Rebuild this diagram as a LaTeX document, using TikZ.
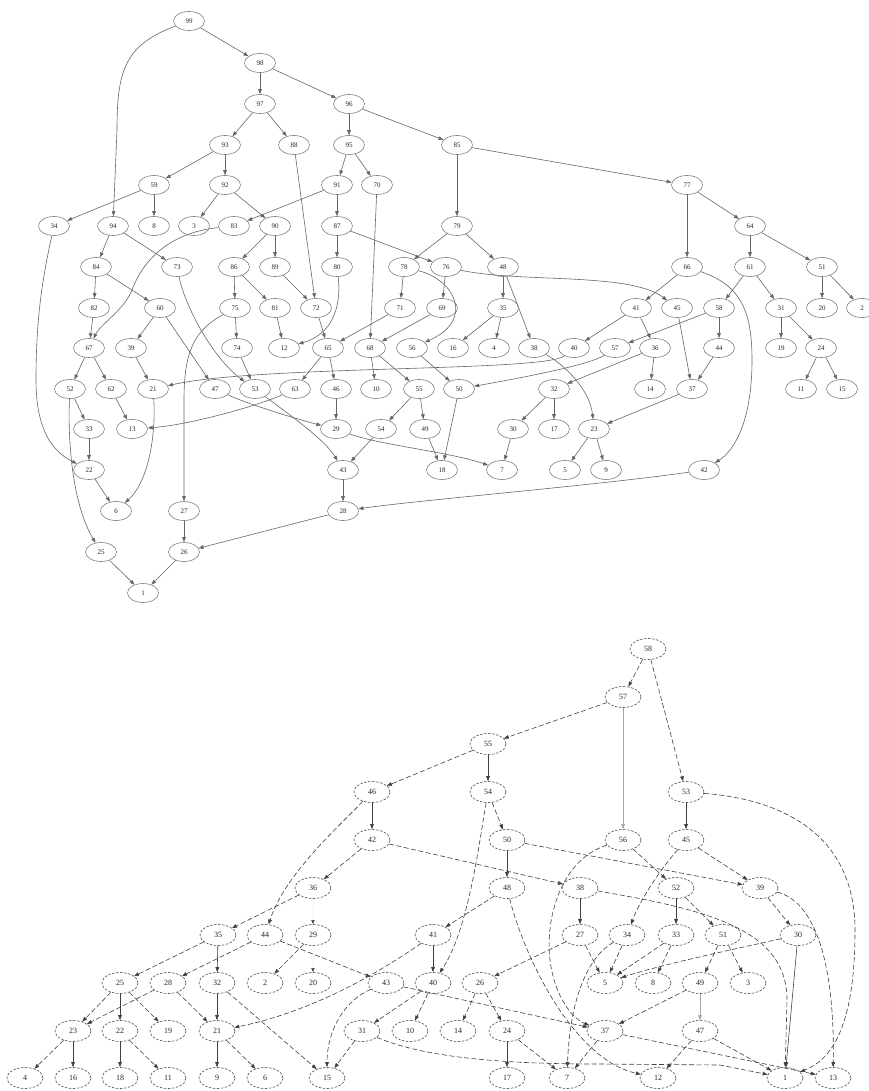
\documentclass[tikz,border=0pt]{standalone}
\usepackage{fontspec}
\setmainfont{Liberation Serif}
\usetikzlibrary{shapes.geometric,arrows.meta}
\begin{document}
\begin{tikzpicture}[x=1pt,y=-1pt,
 tn/.style={ellipse,draw=black!50,line width=0.6pt,minimum width=31pt,minimum height=19pt,inner sep=0pt,font=\fontsize{7}{8}\selectfont,text=black!85},
 bn/.style={ellipse,draw=black!70,line width=0.6pt,dash pattern=on 2.5pt off 1.5pt,minimum width=36pt,minimum height=21pt,inner sep=0pt,font=\fontsize{8}{9}\selectfont,text=black!85},
 te/.style={draw=black!60,line width=0.6pt,-{Triangle[length=5pt,width=3.6pt]}},
 be/.style={draw=black!75,line width=0.6pt,dash pattern=on 5pt off 2.5pt,-{Triangle[length=5pt,width=3.6pt]}},
 bs/.style={draw=black!75,line width=0.6pt,-{Triangle[length=5pt,width=3.6pt]}},
 bt/.style={draw=black!35,line width=0.5pt,-{Triangle[length=5pt,width=3.6pt]}},
 bg/.style={draw=black!5,line width=0.4pt,-{Triangle[length=4pt,width=3.2pt,color=black!70]}},
]
\useasboundingbox (0,0) rectangle (869,1091);
\clip (0,0) rectangle (869,1091);
\fill[white] (0,0) rectangle (869,1091);
% ---------------- top graph nodes
\foreach \n/\x/\y in {99/189/21, 98/260/63, 97/260/104, 96/349/104,
 93/225/145, 88/294/145, 95/349/145, 85/457/145,
 59/154/185, 92/225/185, 91/337/185, 70/377/185, 77/687/185,
 34/54/226, 94/113/226, 8/154/226, 3/194/226, 83/234/226, 90/275/226, 87/337/226, 79/457/226, 64/750/226,
 84/96/267, 73/177/267, 86/234/267, 89/275/267, 80/337/267, 78/404/267, 76/446/267, 48/503/267, 66/687/267, 61/750/267, 51/822/267,
 82/94/308, 60/160/308, 75/235/308, 81/275/308, 72/316/308, 71/400/308, 69/442/308, 35/503/308, 41/636/308, 45/677/308, 58/719/308, 31/781/308, 20/822/308, 2/862/308,
 67/89/348, 39/131/348, 74/237/348, 12/284/348, 65/328/348, 68/370/348, 56/412/348, 16/453/348, 4/494/348, 38/534/348, 40/574/348, 57/615/348, 36/655/348, 44/719/348, 19/781/348, 24/821/348,
 52/70/389, 62/111/389, 21/153/389, 47/215/389, 53/255/389, 63/295/389, 46/336/389, 10/376/389, 55/419/389, 50/459/389, 32/554/389, 14/650/389, 37/692/389, 11/801/389, 15/842/389,
 33/89/429, 13/132/429, 29/336/429, 54/381/429, 49/425/429, 30/513/429, 17/554/429, 23/594/429,
 22/89/470, 43/343/470, 18/442/470, 7/502/470, 5/565/470, 9/606/470, 42/704/470,
 6/116/511, 27/184/511, 28/343/511,
 25/101/552, 26/184/552,
 1/143/593}
 \node[tn] (t\n) at (\x,\y) {\n};
% ---------------- top graph straight edges
\foreach \a/\b in {99/98, 98/97, 98/96, 97/93, 97/88, 96/95, 96/85, 93/59, 93/92, 88/72, 95/91, 95/70, 85/79, 85/77,
 59/34, 59/8, 92/3, 92/90, 91/83, 91/87, 70/68, 77/66, 77/64, 94/84, 94/73, 90/86, 90/89, 87/80, 87/76, 79/78, 79/48,
 64/61, 64/51, 84/82, 84/60, 86/75, 86/81, 89/72, 78/71, 76/69, 48/35, 48/38, 66/41, 61/58, 61/31, 51/20, 51/2,
 82/67, 60/39, 60/47, 75/74, 81/12, 72/65, 71/65, 69/68, 35/16, 35/4, 41/40, 41/36, 45/37, 58/57, 58/44, 31/19, 31/24,
 67/52, 67/62, 39/21, 74/53, 65/63, 65/46, 68/10, 68/55, 56/50, 36/32, 36/14, 44/37, 24/11, 24/15, 52/33, 62/13,
 46/29, 55/54, 55/49, 50/18, 32/30, 32/17, 37/23, 33/22, 54/43, 49/18, 30/7, 23/5, 23/9, 22/6, 43/28, 27/26, 28/26, 25/1, 26/1}
 \draw[te] (t\a) -- (t\b);
% ---------------- top graph curved edges
\draw[te] (t99) .. controls (125,45) and (117,70) .. (117,130) -- (t94);
\draw[te] (t34) .. controls (42,280) and (36,320) .. (36,380) .. controls (36,440) and (60,455) .. (t22);
\draw[te] (t83) .. controls (175,232) and (145,255) .. (132,290) .. controls (124,310) and (100,325) .. (t67);
\draw[te] (t80) .. controls (342,310) and (330,335) .. (t12);
\draw[te] (t73) .. controls (186,310) and (215,360) .. (t53);
\draw[te] (t75) .. controls (195,330) and (184,350) .. (184,400) -- (t27);
\draw[te] (t78) .. controls (455,280) and (475,320) .. (t56);
\draw[te] (t76) .. controls (520,283) and (630,272) .. (t45);
\draw[te] (t66) .. controls (740,285) and (752,310) .. (752,360) .. controls (752,420) and (735,450) .. (t42);
\draw[te] (t40) .. controls (545,372) and (260,365) .. (t21);
\draw[te] (t57) .. controls (590,365) and (520,378) .. (t50);
\draw[te] (t52) .. controls (68,430) and (70,500) .. (t25);
\draw[te] (t21) .. controls (156,430) and (150,480) .. (t6);
\draw[te] (t63) .. controls (260,405) and (190,425) .. (t13);
\draw[te] (t47) .. controls (250,405) and (300,420) .. (t29);
\draw[te] (t53) .. controls (290,415) and (325,440) .. (t43);
\draw[te] (t29) .. controls (380,445) and (450,452) .. (t7);
\draw[te] (t42) .. controls (600,485) and (420,500) .. (t28);
\draw[te] (t38) .. controls (565,365) and (590,390) .. (t23);
% ---------------- bottom graph nodes
\foreach \n/\x/\y in {58/648/649, 57/623/697, 55/488/744,
 46/372/792, 54/488/792, 53/686/792,
 42/372/840, 50/507/840, 56/623/840, 45/686/840,
 36/313/888, 48/507/888, 38/580/888, 52/676/888, 39/760/888,
 35/218/935, 44/265/935, 29/313/935, 41/433/935, 27/580/935, 34/627/935, 33/676/935, 51/723/935, 30/798/935,
 25/120/983, 28/168/983, 32/217/983, 2/265/983, 20/313/983, 43/386/983, 40/433/983, 26/480/983, 5/605/983, 8/653/983, 49/700/983, 3/748/983,
 23/73/1031, 22/120/1031, 19/168/1031, 21/217/1031, 31/362/1031, 10/410/1031, 14/458/1031, 24/507/1031, 37/605/1031, 47/700/1031,
 4/25/1078, 16/73/1078, 18/120/1078, 11/168/1078, 9/217/1078, 6/265/1078, 15/327/1078, 17/507/1078, 7/567/1078, 12/658/1078, 1/785/1078, 13/833/1078}
 \node[bn] (b\n) at (\x,\y) {\n};
% ---------------- bottom graph dashed straight edges
\foreach \a/\b in {58/57, 58/53, 57/55, 55/46, 54/50, 42/36, 42/38, 50/39, 56/52, 45/39, 36/35, 48/41, 52/51, 39/30,
 35/25, 44/28, 44/43, 29/2, 27/26, 27/5, 34/5, 33/5, 33/8, 51/49, 51/3, 25/23, 25/19, 28/23, 28/21, 32/15,
 40/31, 40/10, 26/14, 26/24, 49/37, 23/4, 22/11, 21/6, 31/15, 24/7, 37/7, 37/13, 47/12, 47/1, 43/37}
 \draw[be] (b\a) -- (b\b);
% ---------------- bottom graph solid edges
\foreach \a/\b in {55/54, 46/42, 50/48, 53/45, 38/27, 52/33, 41/40, 35/32, 25/22, 23/16, 22/18, 32/21, 21/9, 24/17, 30/1}
 \draw[bs] (b\a) -- (b\b);
\draw[bt] (b57) -- (b56);
\draw[bt] (b49) -- (b47);
\draw[bg] (b36) -- (b29);
\draw[bg] (b29) -- (b20);
% ---------------- bottom graph curved edges
\draw[be] (b53) .. controls (790,800) and (855,840) .. (855,930) .. controls (855,1030) and (830,1060) .. (b1);
\draw[be] (b46) .. controls (335,830) and (285,875) .. (b44);
\draw[be] (b54) .. controls (478,850) and (468,930) .. (b40);
\draw[be] (b56) .. controls (560,860) and (545,920) .. (550,960) .. controls (555,1000) and (575,1020) .. (b37);
\draw[be] (b48) .. controls (525,960) and (575,1060) .. (b12);
\draw[be] (b38) .. controls (710,910) and (787,930) .. (787,1000) -- (b1);
\draw[be] (b39) .. controls (810,900) and (835,950) .. (b13);
\draw[be] (b30) .. controls (730,950) and (660,965) .. (b5);
\draw[be] (b41) .. controls (390,965) and (320,1010) .. (b21);
\draw[be] (b43) .. controls (345,1000) and (327,1030) .. (b15);
\draw[be] (b31) .. controls (430,1060) and (520,1064) .. (600,1064) -- (720,1065) -- (b1);
\draw[be] (b34) .. controls (590,955) and (570,995) .. (b7);
\draw[be] (b45) .. controls (660,870) and (640,900) .. (b34);
\end{tikzpicture}
\end{document}
